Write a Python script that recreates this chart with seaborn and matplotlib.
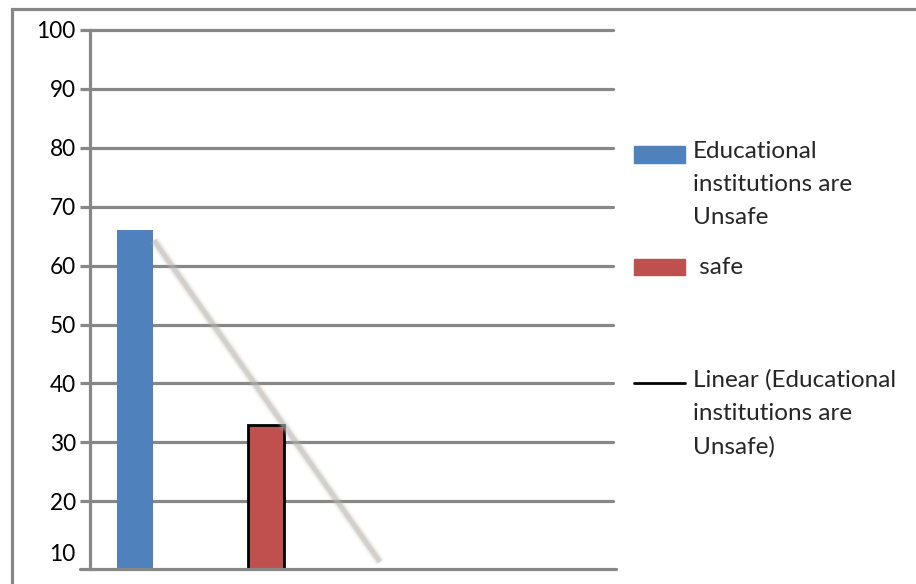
import matplotlib
matplotlib.use("Agg")
import matplotlib.pyplot as plt
import matplotlib.transforms as mtransforms
import seaborn as sns
import pandas as pd
from matplotlib.patches import Rectangle
from matplotlib.lines import Line2D

# Survey responses (percent)
categories = ["Educational institutions are Unsafe", "safe"]
values = [66, 33]
bar_colors = ["#4f81bd", "#c0504d"]

# Value axis ticks
y_ticks = [10, 20, 30, 40, 50, 60, 70, 80, 90, 100]

# Linear trend of the "Unsafe" series (category position, percent)
trend_x = [0.145, 1.87]
trend_y = [64.3, 9.7]

legend_labels = [
    "Educational\ninstitutions are\nUnsafe",
    " safe",
    "Linear (Educational\ninstitutions are\nUnsafe)",
]

sns.set_theme(style="white")
plt.rcParams["font.family"] = ["Lato", "DejaVu Sans"]

W, H = 916, 584
fig = plt.figure(figsize=(W / 100, H / 100), dpi=100)
fig.patch.set_facecolor("white")


def fx(px):
    return px / W


def fy(py):
    return 1 - py / H


grey = "#878787"

ax = fig.add_axes([fx(90), fy(569), fx(613) - fx(90), fy(30) - fy(569)])
ax.set_facecolor("white")

df = pd.DataFrame({"category": categories, "value": values})
sns.barplot(data=df, x="category", y="value", hue="category",
            palette=bar_colors, saturation=1, width=0.275,
            legend=False, ax=ax, zorder=3)
for patch in ax.patches:
    patch.set_edgecolor("none")
ax.patches[1].set_edgecolor("black")
ax.patches[1].set_linewidth(2.0)

ax.set_xlim(-0.3435, 3.65)
ax.set_ylim(8.5, 100)

# horizontal gridlines
for v in y_ticks:
    if v >= 20:
        ax.axhline(v, color=grey, lw=2.3, zorder=1, clip_on=False)

# soft grey trend line
for lw, a in [(8, 0.08), (6, 0.14), (4.5, 0.24), (3, 0.36)]:
    ax.plot(trend_x, trend_y, color="#b8b3ae", lw=lw, alpha=a,
            solid_capstyle="butt", zorder=4)

ax.set_yticks(y_ticks)
ax.set_yticklabels([str(v) for v in y_ticks], fontsize=16.3, color="black")
ax.tick_params(axis="y", length=7.2, width=2.3, color=grey, pad=3, left=True)
ax.yaxis.get_major_ticks()[0].tick1line.set_visible(False)
lowest = ax.get_yticklabels()[0]
lowest.set_transform(lowest.get_transform() +
                     mtransforms.ScaledTranslation(0, 8 / 100, fig.dpi_scale_trans))
ax.set_xticks([])
ax.set_xlabel("")
ax.set_ylabel("")
for s in ["top", "right", "bottom"]:
    ax.spines[s].set_visible(False)
ax.spines["left"].set_color(grey)
ax.spines["left"].set_linewidth(2.3)

# base line of the plot area
fig.add_artist(Line2D([fx(80), fx(616)], [fy(569), fy(569)], color=grey,
                      lw=2.3, transform=fig.transFigure))

# chart border
fig.add_artist(Rectangle((fx(11.5), fy(600)), fx(940), fy(9) - fy(600),
                         transform=fig.transFigure, fill=False,
                         edgecolor=grey, lw=2.3))

# legend
lx0, lx1 = 634, 685
tx = 693
fs = 17.5
ls = 1.72
fig.add_artist(Rectangle((fx(lx0), fy(163)), fx(lx1 - lx0), fy(146) - fy(163),
                         transform=fig.transFigure, color=bar_colors[0]))
fig.add_artist(Rectangle((fx(lx0), fy(275)), fx(lx1 - lx0), fy(259) - fy(275),
                         transform=fig.transFigure, color=bar_colors[1]))
fig.add_artist(Line2D([fx(lx0), fx(lx1)], [fy(383), fy(383)], color="black",
                      lw=2.0, transform=fig.transFigure))
fig.text(fx(tx), fy(141), legend_labels[0], fontsize=fs, va="top",
         ha="left", linespacing=ls)
fig.text(fx(tx), fy(267), legend_labels[1], fontsize=fs, va="center", ha="left")
fig.text(fx(tx), fy(369), legend_labels[2], fontsize=fs, va="top",
         ha="left", linespacing=ls)

fig.savefig("out.png", dpi=100, facecolor="white")
